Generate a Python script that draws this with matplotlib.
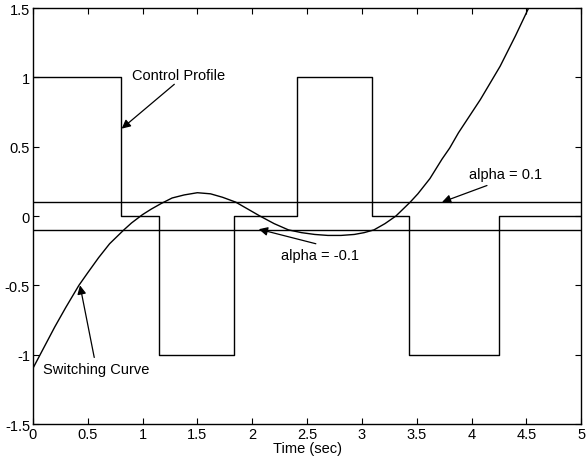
import matplotlib
matplotlib.use('Agg')
import matplotlib.pyplot as plt

plt.rcParams['font.family'] = ['Liberation Sans', 'DejaVu Sans']

# control profile (bang-bang), switch times and levels
switch_times = [0, 0.8, 1.15, 1.83, 2.41, 3.09, 3.43, 4.25, 5.0]
levels = [1, 0, -1, 0, 1, 0, -1, 0]

# switching curve
curve_t = [0, 0.1, 0.2, 0.3, 0.42, 0.5, 0.6, 0.7, 0.83, 0.9, 1.0, 1.08, 1.17,
           1.27, 1.38, 1.5, 1.62, 1.73, 1.85, 1.96, 2.07, 2.2, 2.33, 2.45,
           2.57, 2.69, 2.81, 2.93, 3.02, 3.11, 3.21, 3.31, 3.44, 3.51, 3.62,
           3.73, 3.8, 3.88, 3.98, 4.08, 4.17, 4.26, 4.33, 4.40, 4.46, 4.52]
curve_y = [-1.1, -0.95, -0.8, -0.66, -0.5, -0.41, -0.3, -0.2, -0.1, -0.05,
           0.01, 0.05, 0.09, 0.13, 0.152, 0.168, 0.16, 0.135, 0.1, 0.05, 0.0,
           -0.055, -0.1, -0.12, -0.133, -0.14, -0.14, -0.133, -0.12, -0.1,
           -0.055, 0.0, 0.1, 0.16, 0.27, 0.41, 0.49, 0.6, 0.72, 0.84, 0.96,
           1.08, 1.19, 1.3, 1.4, 1.5]

alpha_levels = [0.1, -0.1]

fig = plt.figure(figsize=(5.86, 4.64), dpi=100)
ax = fig.add_axes([0.056, 0.084, 0.936, 0.8966])

ax.step(switch_times, levels + [levels[-1]], where='post', color='k', lw=1.0)
ax.plot(curve_t, curve_y, color='k', lw=1.0)
for a in alpha_levels:
    ax.axhline(a, color='k', lw=1.0)

ax.set_xlim(0, 5)
ax.set_ylim(-1.5, 1.5)
ax.set_xticks([0, 0.5, 1, 1.5, 2, 2.5, 3, 3.5, 4, 4.5, 5])
ax.set_xticklabels(['0', '0.5', '1', '1.5', '2', '2.5', '3', '3.5', '4', '4.5', '5'])
ax.set_yticks([-1.5, -1, -0.5, 0, 0.5, 1, 1.5])
ax.set_yticklabels(['-1.5', '-1', '-0.5', '0', '0.5', '1', '1.5'])
ax.tick_params(direction='in', top=True, right=True, length=4, width=0.8,
               labelsize=10.5, pad=2)
ax.set_xlabel('Time (sec)', fontsize=10.5, labelpad=0)
for s in ax.spines.values():
    s.set_linewidth(1.0)

arrow = dict(arrowstyle='-|>', color='k', lw=0.9, mutation_scale=13,
             shrinkA=0, shrinkB=0)
ax.text(1.33, 1.02, 'Control Profile', ha='center', va='center', fontsize=10.5)
ax.annotate('', xy=(0.81, 0.63), xytext=(1.29, 0.95), arrowprops=arrow)
ax.text(4.31, 0.30, 'alpha = 0.1', ha='center', va='center', fontsize=10.5)
ax.annotate('', xy=(3.73, 0.1), xytext=(4.14, 0.22), arrowprops=arrow)
ax.text(2.62, -0.28, 'alpha = -0.1', ha='center', va='center', fontsize=10.5)
ax.annotate('', xy=(2.06, -0.095), xytext=(2.58, -0.2), arrowprops=arrow)
ax.text(0.58, -1.10, 'Switching Curve', ha='center', va='center', fontsize=10.5)
ax.annotate('', xy=(0.43, -0.50), xytext=(0.56, -1.02), arrowprops=arrow)

fig.savefig('out.png', dpi=100)
